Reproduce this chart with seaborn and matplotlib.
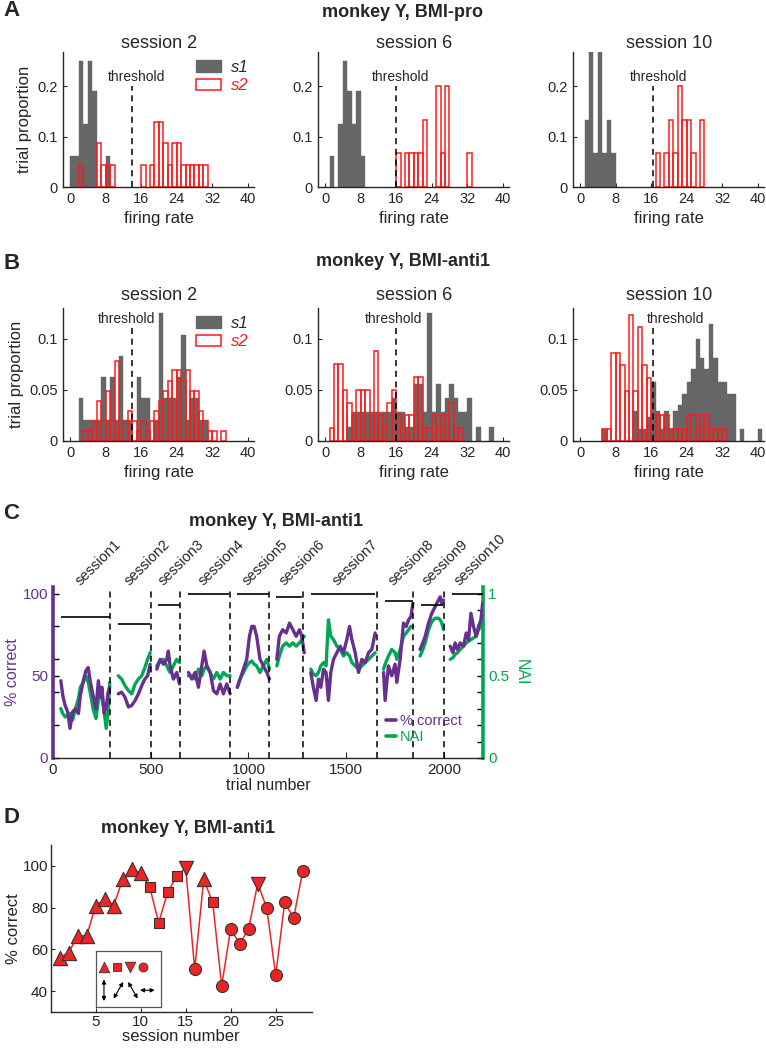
import numpy as np
import pandas as pd
import seaborn as sns
import matplotlib.pyplot as plt
from matplotlib.patches import Patch
from matplotlib.lines import Line2D

sns.set_style('ticks')
plt.rcParams['font.family'] = ['Liberation Sans', 'DejaVu Sans']
plt.rcParams['xtick.direction'] = 'in'
plt.rcParams['ytick.direction'] = 'in'
plt.rcParams['axes.linewidth'] = 1.0

GRAY = '#666666'
RED = '#ff1a1a'
PURPLE = '#66308f'
GREEN = '#00a651'
DRED = '#ee2424'

# ---------------- A: BMI-pro (bin left edge, trial proportion) ----------------
a2_s1_bins = [0, 1, 2, 3, 4, 5, 8]
a2_s1_prop = [0.062, 0.062, 0.25, 0.125, 0.25, 0.19, 0.062]
a2_s2_bins = [2, 6, 7, 8, 9, 16, 18, 19, 20, 21, 22, 23, 24, 25, 26, 27, 28, 29, 30]
a2_s2_prop = [0.044, 0.088, 0.044, 0.044, 0.044, 0.044, 0.044, 0.13, 0.13, 0.088,
              0.044, 0.088, 0.088, 0.044, 0.044, 0.044, 0.044, 0.044, 0.044]
a6_s1_bins = [1, 3, 4, 5, 6, 7, 8]
a6_s1_prop = [0.062, 0.125, 0.25, 0.19, 0.125, 0.19, 0.062]
a6_s2_bins = [16, 18, 19, 20, 21, 22, 25, 26, 27, 32]
a6_s2_prop = [0.067, 0.067, 0.067, 0.067, 0.067, 0.133, 0.2, 0.067, 0.2, 0.067]
a10_s1_bins = [1, 2, 3, 4, 5, 6, 7]
a10_s1_prop = [0.133, 0.267, 0.067, 0.267, 0.067, 0.133, 0.067]
a10_s2_bins = [17, 19, 20, 21, 22, 23, 24, 25, 27]
a10_s2_prop = [0.067, 0.067, 0.133, 0.067, 0.2, 0.133, 0.133, 0.067, 0.133]
a_threshold = [14, 16, 16.5]

# ---------------- B: BMI-anti1 ----------------
b2_s1_bins = [2, 3, 4, 5, 6, 7, 8, 9, 10, 11, 12, 13, 15, 16, 17, 19, 20, 21, 22, 23,
              24, 25, 26, 27, 28, 29, 30]
b2_s1_prop = [0.042, 0.021, 0.021, 0.021, 0.021, 0.0625, 0.021, 0.0625, 0.021, 0.083,
              0.021, 0.021, 0.0625, 0.042, 0.042, 0.021, 0.125, 0.042, 0.042, 0.042,
              0.0625, 0.104, 0.021, 0.042, 0.042, 0.021, 0.021]
b2_s2_bins = [3, 4, 5, 6, 7, 8, 9, 10, 11, 12, 13, 14, 15, 16, 17, 18, 19, 20, 21, 22,
              23, 24, 25, 26, 27, 28, 29, 30, 31, 32, 34]
b2_s2_prop = [0.0098, 0.0098, 0.0196, 0.039, 0.0196, 0.049, 0.0196, 0.078, 0.0098,
              0.0196, 0.029, 0.0196, 0.0098, 0.0196, 0.0098, 0.0196, 0.029, 0.039, 0.049,
              0.059, 0.069, 0.069, 0.059, 0.069, 0.049, 0.049, 0.029, 0.0196, 0.0098,
              0.0098, 0.0098]
b6_s1_bins = [5, 6, 7, 8, 9, 10, 11, 12, 13, 14, 15, 16, 17, 18, 19, 20, 21, 22, 23, 24,
              25, 26, 27, 28, 29, 30, 31, 32, 34, 37]
b6_s1_prop = [0.014, 0.028, 0.028, 0.028, 0.028, 0.028, 0.028, 0.028, 0.028, 0.028,
              0.042, 0.028, 0.028, 0.014, 0.014, 0.056, 0.056, 0.028, 0.125, 0.028,
              0.056, 0.028, 0.042, 0.056, 0.042, 0.028, 0.028, 0.042, 0.014, 0.014]
b6_s2_bins = [1, 2, 3, 4, 5, 6, 7, 8, 9, 10, 11, 12, 13, 14, 15, 16, 17, 18, 19, 20,
              21, 22, 23, 24, 25, 26, 27, 28, 29, 30]
b6_s2_prop = [0.0125, 0.075, 0.075, 0.05, 0.0375, 0.025, 0.05, 0.05, 0.05, 0.025,
              0.0875, 0.025, 0.0125, 0.0375, 0.05, 0.025, 0.0125, 0.025, 0.025, 0.0625,
              0.0625, 0.0125, 0.0125, 0.025, 0.0125, 0.025, 0.025, 0.0375, 0.0125, 0.0125]
b10_s1_bins = [5, 12, 13, 14, 15, 16, 17, 18, 19, 20, 21, 22, 23, 24, 25, 26, 27, 28,
               29, 30, 31, 32, 33, 34, 36, 40]
b10_s1_prop = [0.012, 0.029, 0.012, 0.012, 0.023, 0.058, 0.029, 0.012, 0.029, 0.012,
               0.029, 0.035, 0.046, 0.058, 0.07, 0.1, 0.081, 0.07, 0.114, 0.081, 0.058,
               0.058, 0.046, 0.046, 0.012, 0.012]
b10_s2_bins = [5, 6, 7, 8, 9, 10, 11, 12, 13, 14, 15, 16, 17, 18, 19, 20, 21, 22, 23,
               24, 25, 26, 27, 28, 29, 30, 31, 32]
b10_s2_prop = [0.012, 0.012, 0.086, 0.086, 0.074, 0.049, 0.123, 0.049, 0.111, 0.074,
               0.062, 0.025, 0.025, 0.025, 0.025, 0.012, 0.012, 0.012, 0.012, 0.025,
               0.025, 0.012, 0.025, 0.025, 0.012, 0.012, 0.012, 0.012]
b_threshold = [14, 16, 16.5]
session_titles = ['session 2', 'session 6', 'session 10']

# ---------------- C: running % correct and NAI per session ----------------
sess1_x = [40, 50, 62, 75, 87, 100, 115, 130, 140, 155, 168, 180, 190, 205, 220, 232, 242, 250, 262, 272, 282, 290]
sess1_pc = [47, 38, 32, 28, 18, 28, 30, 27, 38, 47, 53, 55, 47, 38, 30, 47, 37, 43, 27, 31, 40, 43]
sess1_nai = [0.30, 0.27, 0.25, 0.26, 0.27, 0.23, 0.30, 0.36, 0.43, 0.46, 0.50, 0.46, 0.40, 0.30, 0.24, 0.35, 0.40, 0.37, 0.28, 0.18, 0.28, 0.46]
sess2_x = [334, 351, 368, 386, 403, 420, 437, 454, 470, 484, 497]
sess2_pc = [39, 40, 37, 31, 32, 35, 39, 44, 48, 50, 57]
sess2_nai = [0.50, 0.48, 0.44, 0.41, 0.39, 0.45, 0.48, 0.50, 0.55, 0.60, 0.64]
sess3_x = [531, 548, 565, 582, 590, 599, 616, 633, 647]
sess3_pc = [54, 60, 57, 60, 65, 56, 48, 52, 45]
sess3_nai = [0.56, 0.59, 0.60, 0.56, 0.54, 0.52, 0.56, 0.60, 0.58]
sess4_x = [693, 710, 727, 744, 761, 773, 787, 804, 821, 838, 855, 872, 889, 906]
sess4_pc = [52, 48, 52, 43, 56, 65, 56, 52, 41, 39, 45, 39, 45, 39]
sess4_nai = [0.50, 0.50, 0.48, 0.54, 0.50, 0.54, 0.56, 0.52, 0.48, 0.52, 0.48, 0.52, 0.50, 0.50]
sess5_x = [943, 957, 974, 991, 1005, 1017, 1029, 1042, 1059, 1076, 1094, 1107]
sess5_pc = [43, 48, 54, 60, 74, 80, 80, 74, 60, 56, 52, 48]
sess5_nai = [0.43, 0.48, 0.52, 0.56, 0.58, 0.59, 0.57, 0.56, 0.52, 0.56, 0.60, 0.54]
sess6_x = [1145, 1158, 1175, 1193, 1210, 1227, 1244, 1261, 1273, 1285]
sess6_pc = [60, 74, 78, 76, 82, 78, 74, 78, 74, 64]
sess6_nai = [0.56, 0.62, 0.68, 0.70, 0.68, 0.70, 0.68, 0.70, 0.72, 0.74]
sess7_x = [1319, 1332, 1346, 1358, 1370, 1384, 1397, 1409, 1421, 1435, 1452, 1469, 1486, 1503, 1517, 1529, 1546, 1563, 1580, 1597, 1614, 1631, 1648]
sess7_pc = [52, 43, 35, 48, 43, 54, 52, 35, 52, 60, 64, 68, 64, 72, 80, 72, 64, 52, 60, 58, 64, 66, 76]
sess7_nai = [0.54, 0.51, 0.50, 0.52, 0.56, 0.58, 0.56, 0.84, 0.74, 0.72, 0.68, 0.66, 0.62, 0.64, 0.62, 0.58, 0.56, 0.54, 0.56, 0.58, 0.60, 0.62, 0.64]
sess8_x = [1691, 1699, 1716, 1733, 1750, 1759, 1776, 1793, 1807, 1819, 1831, 1841]
sess8_pc = [52, 35, 56, 50, 57, 46, 60, 82, 80, 84, 86, 94]
sess8_nai = [0.54, 0.57, 0.62, 0.66, 0.64, 0.60, 0.66, 0.74, 0.76, 0.78, 0.80, 0.80]
sess9_x = [1878, 1892, 1904, 1921, 1938, 1955, 1972, 1981, 1989, 1998]
sess9_pc = [66, 70, 74, 82, 88, 92, 96, 98, 94, 96]
sess9_nai = [0.62, 0.66, 0.70, 0.78, 0.83, 0.85, 0.85, 0.84, 0.82, 0.78]
sess10_x = [2032, 2046, 2057, 2069, 2083, 2100, 2114, 2126, 2138, 2151, 2165, 2177, 2189, 2198]
sess10_pc = [68, 64, 70, 66, 70, 68, 76, 72, 88, 80, 74, 80, 84, 94]
sess10_nai = [0.60, 0.61, 0.63, 0.64, 0.66, 0.68, 0.70, 0.71, 0.72, 0.73, 0.74, 0.78, 0.80, 0.84]

session_bounds = [290, 500, 650, 905, 1105, 1280, 1655, 1840, 2000]
crit_level = [85.5, 81.7, 92.9, 100, 100, 97.8, 100, 95.3, 92.9, 100]
crit_start = [40, 333, 537, 690, 940, 1142, 1318, 1700, 1882, 2040]
crit_end = [292, 497, 648, 902, 1103, 1276, 1648, 1840, 1997, 2200]

# ---------------- D: % correct per session ----------------
d_session = list(range(1, 29))
d_correct = [56, 58.5, 66.5, 66.5, 81, 84, 81, 93.5, 98.5, 96.5, 90, 72.8, 87.5, 95,
             99, 50.5, 93.5, 82.5, 42.5, 70, 62.5, 70, 91.5, 80, 47.5, 82.5, 75, 97.5]
d_dir = ['up'] * 10 + ['sq'] * 4 + ['down', 'circ', 'up', 'sq'] + ['circ'] * 4 + \
        ['down'] + ['circ'] * 5
dir_marker = {'up': '^', 'sq': 's', 'down': 'v', 'circ': 'o'}
dir_size = {'up': 105, 'sq': 48, 'down': 105, 'circ': 75}
inset_order = ['up', 'sq', 'down', 'circ']
inset_arrow_angle = [90, 60, 120, 0]
inset_arrow_len = [0.38, 0.34, 0.34, 0.26]


def draw_hist(ax, b1, p1, b2, p2):
    sns.histplot(x=np.array(b1) + 0.5, weights=p1, binwidth=1, binrange=(0, 45),
                 color=GRAY, alpha=1, edgecolor=GRAY, linewidth=0.3, ax=ax)
    sns.histplot(x=np.array(b2) + 0.5, weights=p2, binwidth=1, binrange=(0, 45),
                 fill=False, color=RED, linewidth=1.1, ax=ax)
    for p in list(ax.patches):
        if p.get_height() == 0:
            p.remove()
    ax.set_xlim(-1.6, 41.5)
    ax.set_xticks([0, 8, 16, 24, 32, 40])
    ax.tick_params(labelsize=10.5, length=3)
    ax.set_ylabel('')
    ax.set_xlabel('firing rate', fontsize=12)
    sns.despine(ax=ax)


fig = plt.figure(figsize=(7.66, 10.5), dpi=100)
col_left = [0.0822, 0.4151, 0.748]

a_data = [(a2_s1_bins, a2_s1_prop, a2_s2_bins, a2_s2_prop),
          (a6_s1_bins, a6_s1_prop, a6_s2_bins, a6_s2_prop),
          (a10_s1_bins, a10_s1_prop, a10_s2_bins, a10_s2_prop)]
b_data = [(b2_s1_bins, b2_s1_prop, b2_s2_bins, b2_s2_prop),
          (b6_s1_bins, b6_s1_prop, b6_s2_bins, b6_s2_prop),
          (b10_s1_bins, b10_s1_prop, b10_s2_bins, b10_s2_prop)]
a_text_x = [15, 17, 17.6]
b_text_x = [12.7, 15.3, 21.5]

for i in range(3):
    ax = fig.add_axes([col_left[i], 0.8219, 0.25, 0.1286])
    draw_hist(ax, *a_data[i])
    ax.set_ylim(0, 0.268)
    ax.set_yticks([0, 0.1, 0.2])
    ax.set_yticklabels(['0', '0.1', '0.2'])
    ax.vlines(a_threshold[i], 0, 0.2, colors='k', linestyles=(0, (4, 3)), lw=1.1)
    ax.text(a_text_x[i], 0.205, 'threshold', ha='center', va='bottom', fontsize=10)
    ax.set_title(session_titles[i], fontsize=13, pad=2)
    if i == 0:
        ax.set_ylabel('trial proportion', fontsize=12)

    bx = fig.add_axes([col_left[i], 0.58, 0.25, 0.1267])
    draw_hist(bx, *b_data[i])
    bx.set_ylim(0, 0.13)
    bx.set_yticks([0, 0.05, 0.1])
    bx.set_yticklabels(['0', '0.05', '0.1'])
    bx.vlines(b_threshold[i], 0, 0.111, colors='k', linestyles=(0, (4, 3)), lw=1.1)
    bx.text(b_text_x[i], 0.112, 'threshold', ha='center', va='bottom', fontsize=10)
    bx.set_title(session_titles[i], fontsize=13, pad=6)
    if i == 0:
        bx.set_ylabel('trial proportion', fontsize=12)

    if i == 0:
        for a in (ax, bx):
            handles = [Patch(facecolor=GRAY, edgecolor=GRAY),
                       Patch(facecolor='white', edgecolor=RED, lw=1.1)]
            leg = a.legend(handles, ['s1', 's2'], loc='upper left',
                           bbox_to_anchor=(0.66, 0.99), frameon=False,
                           prop={'style': 'italic', 'size': 12},
                           handlelength=1.5, handleheight=0.7, handletextpad=0.6,
                           labelspacing=0.2, borderaxespad=0)
            leg.get_texts()[1].set_color(RED)

fig.text(0.526, 0.988, 'monkey Y, BMI-pro', ha='center', va='center',
         fontsize=13, weight='bold')
fig.text(0.526, 0.7505, 'monkey Y, BMI-anti1', ha='center', va='center',
         fontsize=13, weight='bold')

# ---------------- panel C ----------------
c_x = [sess1_x, sess2_x, sess3_x, sess4_x, sess5_x, sess6_x, sess7_x, sess8_x, sess9_x, sess10_x]
c_pc = [sess1_pc, sess2_pc, sess3_pc, sess4_pc, sess5_pc, sess6_pc, sess7_pc, sess8_pc, sess9_pc, sess10_pc]
c_nai = [sess1_nai, sess2_nai, sess3_nai, sess4_nai, sess5_nai, sess6_nai, sess7_nai, sess8_nai, sess9_nai, sess10_nai]
frames = []
for k in range(10):
    frames.append(pd.DataFrame({'trial': c_x[k], 'pc': c_pc[k], 'nai': c_nai[k],
                                'session': k + 1}))
df_c = pd.concat(frames, ignore_index=True)

cx = fig.add_axes([0.0692, 0.2781, 0.5614, 0.1629])
cx2 = cx.twinx()
sns.lineplot(data=df_c, x='trial', y='nai', units='session', estimator=None,
             color=GREEN, lw=2.4, ax=cx2)
sns.lineplot(data=df_c, x='trial', y='pc', units='session', estimator=None,
             color=PURPLE, lw=2.4, ax=cx)
cx.set_zorder(cx2.get_zorder() + 1)
cx.patch.set_visible(False)

cx.vlines(session_bounds, 0, 102, colors='k', linestyles=(0, (4, 3)), lw=1.1)
cx.hlines(crit_level, crit_start, crit_end, colors='k', lw=1.2)
for k in range(10):
    mid = (crit_start[k] + crit_end[k]) / 2 + 65
    cx.text(mid, 103, 'session%d' % (k + 1), rotation=45, ha='center', va='bottom',
            fontsize=10.5, clip_on=False)

cx.set_xlim(0, 2200)
cx.set_ylim(0, 104)
cx2.set_ylim(0, 1.04)
cx.set_xticks([0, 500, 1000, 1500, 2000])
cx.set_yticks([0, 50, 100])
cx.set_yticks([20, 40, 60, 80], minor=True)
cx2.set_yticks([0, 0.5, 1])
cx2.set_yticklabels(['0', '0.5', '1'])
cx2.set_yticks(np.arange(0.1, 1.0, 0.1), minor=True)
cx.tick_params(axis='y', which='both', colors=PURPLE, labelsize=11, length=4, width=1)
cx.tick_params(axis='x', labelsize=11, length=4)
cx2.tick_params(axis='y', which='both', colors=GREEN, labelsize=11, length=4, width=1)
cx.tick_params(axis='y', which='both', color='k')
cx2.tick_params(axis='y', which='both', color='k')
for s in ['top', 'right']:
    cx.spines[s].set_visible(False)
for s in ['top', 'left', 'bottom']:
    cx2.spines[s].set_visible(False)
cx.spines['left'].set_color(PURPLE)
cx.spines['left'].set_linewidth(2.6)
cx2.spines['right'].set_color(GREEN)
cx2.spines['right'].set_linewidth(2.6)
cx.set_xlabel('trial number', fontsize=11.5, labelpad=1)
cx.set_ylabel('% correct', fontsize=11.5, color=PURPLE, labelpad=2)
cx2.set_ylabel('NAI', fontsize=11.5, color=GREEN, rotation=270, labelpad=14)
leg = cx.legend([Line2D([], [], color=PURPLE, lw=2.6), Line2D([], [], color=GREEN, lw=2.6)],
                ['% correct', 'NAI'], loc='lower left', bbox_to_anchor=(0.76, 0.05),
                frameon=False, fontsize=10.5, handlelength=0.7, handletextpad=0.3,
                labelspacing=0.1, borderaxespad=0)
leg.get_texts()[0].set_color(PURPLE)
leg.get_texts()[1].set_color(GREEN)

fig.text(0.36, 0.5029, 'monkey Y, BMI-anti1', ha='center', va='center',
         fontsize=13, weight='bold')

# ---------------- panel D ----------------
df_d = pd.DataFrame({'session': d_session, 'pc': d_correct, 'dir': d_dir})
dx = fig.add_axes([0.0662, 0.0362, 0.3407, 0.159])
sns.lineplot(data=df_d, x='session', y='pc', color=DRED, lw=1.1, ax=dx)
for key, m in dir_marker.items():
    sub = df_d[df_d['dir'] == key]
    sns.scatterplot(data=sub, x='session', y='pc', marker=m, s=dir_size[key],
                    color=DRED, edgecolor='#333333', linewidth=0.8, zorder=3, ax=dx)
dx.set_xlim(0, 29)
dx.set_ylim(30, 110)
dx.set_xticks([5, 10, 15, 20, 25])
dx.set_yticks([40, 60, 80, 100])
dx.tick_params(labelsize=11, length=3, pad=2)
dx.set_xlabel('session number', fontsize=12, labelpad=0)
dx.set_ylabel('% correct', fontsize=12, labelpad=1)
sns.despine(ax=dx)
fig.text(0.2455, 0.2105, 'monkey Y, BMI-anti1', ha='center', va='center',
         fontsize=13, weight='bold')

ix = fig.add_axes([0.125, 0.0407, 0.0858, 0.054])
ix.set_xlim(0, 4)
ix.set_ylim(0, 2)
for k, key in enumerate(inset_order):
    ix.scatter(0.5 + 0.8 * k, 1.42, marker=dir_marker[key], s=dir_size[key] * 0.55,
               color=DRED, edgecolor='#333333', linewidth=0.6)
    ang = np.deg2rad(inset_arrow_angle[k])
    cxp, cyp = 0.5 + 0.88 * k, 0.6
    ddx = inset_arrow_len[k] * np.cos(ang) * 1.72
    ddy = inset_arrow_len[k] * np.sin(ang)
    ix.annotate('', xy=(cxp + ddx, cyp + ddy), xytext=(cxp - ddx, cyp - ddy),
                arrowprops=dict(arrowstyle='<|-|>', color='k', lw=0.8,
                                mutation_scale=6, shrinkA=0, shrinkB=0))
ix.set_xticks([])
ix.set_yticks([])
for s in ix.spines.values():
    s.set_color('#555555')
    s.set_linewidth(0.9)

for lab, y in [('A', 0.99), ('B', 0.7495), ('C', 0.511), ('D', 0.221)]:
    fig.text(0.004, y, lab, fontsize=16, weight='bold', va='center')

fig.savefig('out.png', dpi=100)
